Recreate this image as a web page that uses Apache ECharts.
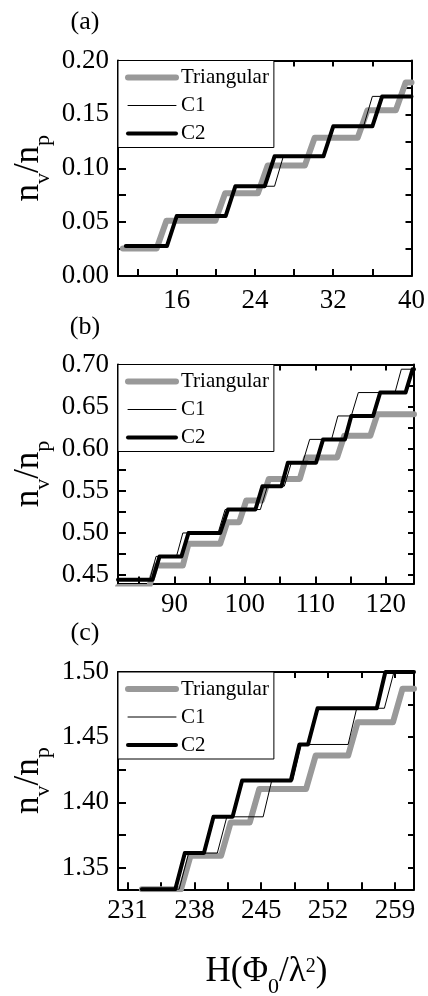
<!DOCTYPE html>
<html><head><meta charset="utf-8">
<script src="https://cdn.jsdelivr.net/npm/echarts@6/dist/echarts.min.js"></script>
<style>html,body{margin:0;padding:0;background:#fff}#c{width:428px;height:996px}</style>
</head><body><div id="c"></div>
<script>
const FONT = '"Liberation Serif","Times New Roman",serif';
const seriesNames = ['Triangular', 'C1', 'C2'];

// ---------- Panel (a) ----------
const aTriX = [10.5, 13.95, 14.95, 19.95, 20.95, 24.3, 25.3, 29.1, 30.1, 34.5, 35.5, 38.4, 39.4, 40];
const aTriY = [0.0256, 0.0256, 0.0513, 0.0513, 0.0769, 0.0769, 0.1026, 0.1026, 0.1282, 0.1282, 0.1538, 0.1538, 0.1795, 0.1795];
const aC1X = [10.8, 15, 16, 21, 22, 26, 26.9, 31, 32, 35.1, 36, 40];
const aC1Y = [0.0278, 0.0278, 0.0556, 0.0556, 0.0833, 0.0833, 0.1111, 0.1111, 0.1389, 0.1389, 0.1667, 0.1667];
const aC2X = [10.8, 15, 16, 21, 22, 25, 26, 31, 32, 36, 37, 40];
const aC2Y = [0.0278, 0.0278, 0.0556, 0.0556, 0.0833, 0.0833, 0.1111, 0.1111, 0.1389, 0.1389, 0.1667, 0.1667];
const aXTicks = [12, 16, 20, 24, 28, 32, 36, 40];
const aXLabels = [16, 24, 32, 40];
const aYTicks = [0, 0.025, 0.05, 0.075, 0.1, 0.125, 0.15, 0.175, 0.2];
const aYLabels = [0, 0.05, 0.1, 0.15, 0.2];

// ---------- Panel (b) ----------
const bTriX = [82, 86.4, 87.4, 91.2, 92.0, 96.5, 97.5, 99.2, 100.2, 102.4, 103.4, 107.8, 108.7, 113.1, 114.1, 117.8, 118.8, 124];
const bTriY = [0.4359, 0.4359, 0.4615, 0.4615, 0.4872, 0.4872, 0.5128, 0.5128, 0.5385, 0.5385, 0.5641, 0.5641, 0.5897, 0.5897, 0.6154, 0.6154, 0.6410, 0.6410];
const bC1X = [82, 86.5, 87.4, 90.3, 91.2, 96.2, 97.2, 102.2, 103.2, 105.6, 106.6, 108.2, 109.2, 112.3, 113.2, 115.1, 116.1, 121.3, 122.2, 124];
const bC1Y = [0.4444, 0.4444, 0.4722, 0.4722, 0.5, 0.5, 0.5278, 0.5278, 0.5556, 0.5556, 0.5833, 0.5833, 0.6111, 0.6111, 0.6389, 0.6389, 0.6667, 0.6667, 0.6944, 0.6944];
const bC2X = [82, 86.9, 87.9, 91, 92, 96.5, 97.6, 101.5, 102.5, 105.2, 106.1, 110.1, 111.1, 114.2, 115.1, 118.2, 119.2, 122.8, 123.8, 124];
const bC2Y = [0.4444, 0.4444, 0.4722, 0.4722, 0.5, 0.5, 0.5278, 0.5278, 0.5556, 0.5556, 0.5833, 0.5833, 0.6111, 0.6111, 0.6389, 0.6389, 0.6667, 0.6667, 0.6944, 0.6944];
const bXTicks = [85, 90, 95, 100, 105, 110, 115, 120];
const bXLabels = [90, 100, 110, 120];
const bYTicks = [0.45, 0.475, 0.5, 0.525, 0.55, 0.575, 0.6, 0.625, 0.65, 0.675, 0.7];
const bYLabels = [0.45, 0.5, 0.55, 0.6, 0.65, 0.7];

// ---------- Panel (c) ----------
const cTriX = [232.5, 236.6, 237.6, 240.8, 241.8, 243.8, 244.8, 249.7, 250.7, 254.1, 255.1, 258.8, 259.8, 261];
const cTriY = [1.3333, 1.3333, 1.3590, 1.3590, 1.3846, 1.3846, 1.4103, 1.4103, 1.4359, 1.4359, 1.4615, 1.4615, 1.4872, 1.4872];
const cC1X = [232.5, 236.4, 237.4, 240.4, 241.4, 245.2, 246.1, 248.3, 249.2, 254.1, 255.0, 257.9, 258.9, 261];
const cC1Y = [1.3333, 1.3333, 1.3611, 1.3611, 1.3889, 1.3889, 1.4167, 1.4167, 1.4444, 1.4444, 1.4722, 1.4722, 1.5, 1.5];
const cC2X = [232.5, 236, 237, 239, 240, 242, 243, 248.1, 249, 249.9, 250.9, 257.1, 258, 261];
const cC2Y = [1.3333, 1.3333, 1.3611, 1.3611, 1.3889, 1.3889, 1.4167, 1.4167, 1.4444, 1.4444, 1.4722, 1.4722, 1.5, 1.5];
const cXTicks = [231, 234.5, 238, 241.5, 245, 248.5, 252, 255.5, 259];
const cXLabels = [231, 238, 245, 252, 259];
const cYTicks = [1.35, 1.375, 1.4, 1.425, 1.45, 1.475, 1.5];
const cYLabels = [1.35, 1.4, 1.45, 1.5];

function pts(xs, ys) { return xs.map((x, i) => [x, ys[i]]); }

const panels = [
  { grid: { left: 118, top: 60.5, width: 296, height: 215.5 }, x: [10, 40], y: [0, 0.2],
    xt: aXTicks, xl: aXLabels, yt: aYTicks, yl: aYLabels, lm: 11,
    data: [pts(aTriX, aTriY), pts(aC1X, aC1Y), pts(aC2X, aC2Y)], tag: '(a)', tagY: 22 },
  { grid: { left: 118, top: 364.5, width: 296, height: 219 }, x: [82, 124], y: [0.44, 0.70],
    xt: bXTicks, xl: bXLabels, yt: bYTicks, yl: bYLabels, lm: 8,
    data: [pts(bTriX, bTriY), pts(bC1X, bC1Y), pts(bC2X, bC2Y)], tag: '(b)', tagY: 327 },
  { grid: { left: 118, top: 672, width: 296, height: 217.3 }, x: [230, 261], y: [1.3333, 1.50],
    xt: cXTicks, xl: cXLabels, yt: cYTicks, yl: cYLabels, lm: 8,
    data: [pts(cTriX, cTriY), pts(cC1X, cC1Y), pts(cC2X, cC2Y)], tag: '(c)', tagY: 633 }
];

const lineStyles = [
  { color: '#999999', width: 6, cap: 'round', join: 'round' },
  { color: '#000000', width: 1, cap: 'butt', join: 'miter' },
  { color: '#000000', width: 4, cap: 'round', join: 'round' }
];

const grid = [], xAxis = [], yAxis = [], series = [], legend = [], graphic = [];
const axLine = { show: true, onZero: false, lineStyle: { color: '#000', width: 2 } };
const lab = { fontFamily: FONT, fontSize: 27, color: '#000' };

panels.forEach((p, i) => {
  grid.push(p.grid);
  xAxis.push({
    type: 'value', gridIndex: i, position: 'bottom', min: p.x[0], max: p.x[1],
    axisLine: axLine, splitLine: { show: false },
    axisTick: { show: true, inside: true, length: 7, lineStyle: { color: '#000', width: 2 }, customValues: p.xt },
    axisLabel: Object.assign({ show: true, margin: p.lm, customValues: p.xl, formatter: v => String(v) }, lab)
  });
  xAxis.push({
    type: 'value', gridIndex: i, position: 'top', min: p.x[0], max: p.x[1],
    axisLine: axLine, splitLine: { show: false },
    axisTick: { show: true, inside: true, length: 6, lineStyle: { color: '#000', width: 2 }, customValues: p.xt },
    axisLabel: { show: false }
  });
  yAxis.push({
    type: 'value', gridIndex: i, position: 'left', min: p.y[0], max: p.y[1],
    axisLine: axLine, splitLine: { show: false },
    axisTick: { show: true, inside: true, length: 8, lineStyle: { color: '#000', width: 2 }, customValues: p.yt },
    axisLabel: Object.assign({ show: true, margin: 9, customValues: p.yl, formatter: v => v.toFixed(2) }, lab)
  });
  yAxis.push({
    type: 'value', gridIndex: i, position: 'right', min: p.y[0], max: p.y[1],
    axisLine: axLine, splitLine: { show: false },
    axisTick: { show: true, inside: true, length: 6, lineStyle: { color: '#000', width: 2 }, customValues: p.yt },
    axisLabel: { show: false }
  });
  p.data.forEach((d, k) => {
    series.push({
      type: 'line', name: seriesNames[k], xAxisIndex: 2 * i, yAxisIndex: 2 * i,
      data: d, symbol: 'none', showSymbol: false, silent: true, clip: true,
      lineStyle: lineStyles[k], itemStyle: { color: lineStyles[k].color }, z: 2 + k
    });
  });
  legend.push({
    left: 118, top: p.grid.top, orient: 'vertical', data: seriesNames,
    itemWidth: 48, itemHeight: 28, itemGap: 0, padding: [3, 5, 0, 7],
    borderColor: '#000', borderWidth: 1, backgroundColor: '#fff', selectedMode: false,
    textStyle: { fontFamily: FONT, fontSize: 21, color: '#000', lineHeight: 28 },
    itemStyle: { opacity: 0 },
    lineStyle: { width: 'inherit', cap: 'round' }
  });
  graphic.push({
    type: 'text', x: 85, y: p.tagY, silent: true,
    style: { text: p.tag, fontFamily: FONT, fontSize: 26, fill: '#000', align: 'center', verticalAlign: 'middle' }
  });
  graphic.push({
    type: 'text', x: 28.5, y: p.grid.top + p.grid.height / 2, rotation: Math.PI / 2, silent: true,
    style: {
      text: '{m|n}{s|v}{m|/n}{s|p}', align: 'center', verticalAlign: 'middle', fill: '#000',
      rich: {
        m: { fontFamily: FONT, fontSize: 35, fill: '#000' },
        s: { fontFamily: FONT, fontSize: 22, fill: '#000', padding: [30, 0, 0, 0] }
      }
    }
  });
});

graphic.push({
  type: 'text', x: 266.5, y: 972, silent: true,
  style: {
    text: '{m|H(Φ}{s|0}{m|/λ}{p|2}{m|)}', align: 'center', verticalAlign: 'middle', fill: '#000',
    rich: {
      m: { fontFamily: FONT, fontSize: 35, fill: '#000' },
      s: { fontFamily: FONT, fontSize: 22, fill: '#000', padding: [30, 0, 0, 0] },
      p: { fontFamily: FONT, fontSize: 20, fill: '#000', padding: [0, 0, 10, 0] }
    }
  }
});

const chart = echarts.init(document.getElementById('c'), null, { renderer: 'canvas' });
chart.setOption({
  animation: false, backgroundColor: '#fff',
  grid, xAxis, yAxis, series, legend, graphic
});
</script>
</body></html>
